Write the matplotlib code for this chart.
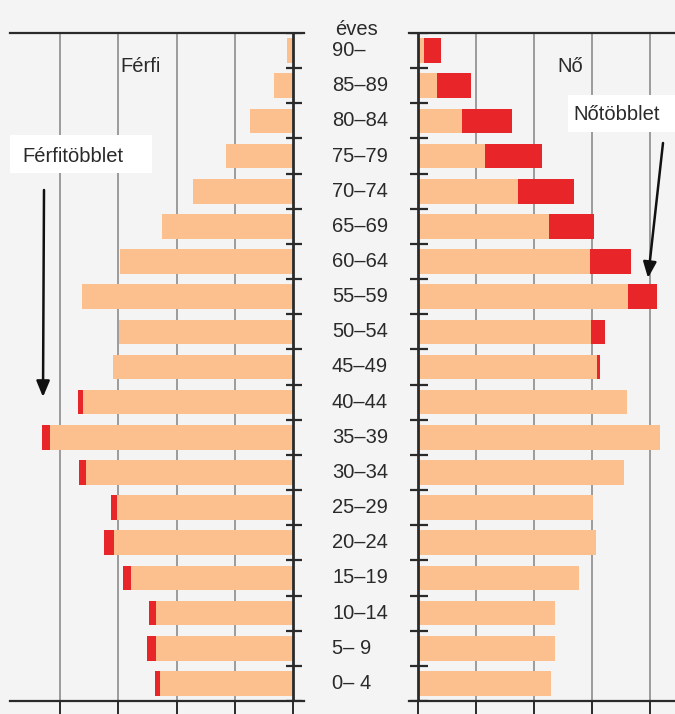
import matplotlib
matplotlib.use("Agg")
import matplotlib.pyplot as plt
import numpy as np
from matplotlib.patches import Rectangle
from matplotlib.text import Annotation
from matplotlib.transforms import blended_transform_factory

plt.rcParams["font.family"] = ["Liberation Sans Narrow", "Liberation Sans", "DejaVu Sans"]

# age groups, bottom to top
ages = ["0– 4", "5– 9", "10–14", "15–19", "20–24", "25–29", "30–34", "35–39",
        "40–44", "45–49", "50–54", "55–59", "60–64", "65–69", "70–74",
        "75–79", "80–84", "85–89", "90–"]
# bar lengths (grid units)
male = [2.37, 2.51, 2.48, 2.91, 3.24, 3.12, 3.67, 4.30, 3.68, 3.09,
        2.98, 3.62, 2.96, 2.25, 1.72, 1.15, 0.75, 0.33, 0.11]
female = [2.29, 2.36, 2.36, 2.78, 3.07, 3.02, 3.55, 4.17, 3.60, 3.14,
          3.22, 4.12, 3.67, 3.03, 2.69, 2.14, 1.62, 0.91, 0.40]

ORANGE = "#fbc08e"
RED = "#e8262a"
BG = "#f4f4f4"
INK = "#2a2a2a"
W, H = 675, 714
FS = 14.5

male = np.array(male)
female = np.array(female)
common = np.minimum(male, female)
male_extra = np.clip(male - female, 0, None)
female_extra = np.clip(female - male, 0, None)
y = np.arange(len(ages))

fig = plt.figure(figsize=(W / 100, H / 100), dpi=100, facecolor=BG)


def px(x0, y0, w, h):
    return [x0 / W, 1 - (y0 + h) / H, w / W, h / H]


axl = fig.add_axes(px(10, 33, 294, 668))
axr = fig.add_axes(px(409, 33, 266, 668))
axl.set_xlim(4.85, -0.18)
axr.set_xlim(-0.155, 4.43)

for ax in (axl, axr):
    ax.set_facecolor(BG)
    ax.set_ylim(-0.5, 18.5)
    for s in ("left", "right"):
        ax.spines[s].set_visible(False)
    for s in ("top", "bottom"):
        ax.spines[s].set_color(INK)
        ax.spines[s].set_linewidth(1.6)
    ax.set_xticks(range(5))
    ax.set_xticklabels([])
    ax.set_yticks([])
    ax.tick_params(axis="x", direction="out", length=9, width=1.4, color=INK)
    for g in range(1, 5):
        ax.axvline(g, color="#8c8c8c", lw=1.2, zorder=0)
    ax.axvline(0, color=INK, lw=2, zorder=3)

axl.barh(y, common, height=0.7, color=ORANGE, zorder=2)
axl.barh(y, male_extra, left=common, height=0.7, color=RED, zorder=2)
axr.barh(y, common, height=0.7, color=ORANGE, zorder=2)
axr.barh(y, female_extra, left=common, height=0.7, color=RED, zorder=2)

bounds = np.arange(-0.5, len(ages), 1.0)
axl.hlines(bounds, -0.15, 0.12, color=INK, lw=1.6, zorder=3)
axr.hlines(bounds, -0.14, 0.17, color=INK, lw=1.6, zorder=3)

# age labels in the middle
tr = blended_transform_factory(fig.transFigure, axl.transData)
for yi, lab in zip(y, ages):
    fig.text(332 / W, yi, lab, transform=tr, ha="left", va="center",
             fontsize=FS, color=INK)
fig.text(357 / W, 1 - 35 / H, "éves", ha="center", va="baseline",
         fontsize=FS, color=INK)

fig.text(141 / W, 1 - 66 / H, "Férfi", ha="center", va="center",
         fontsize=FS, color=INK)
fig.text(570 / W, 1 - 67 / H, "Nő", ha="center", va="center",
         fontsize=FS, color=INK)

# callout boxes and arrows
for x0, y0, w, h in [(10, 135, 142, 38), (568, 95, 107, 37)]:
    fig.add_artist(Rectangle((x0 / W, 1 - (y0 + h) / H), w / W, h / H,
                             transform=fig.transFigure, facecolor="white",
                             edgecolor="none", zorder=5))
fig.text(22 / W, 1 - 156 / H, "Férfitöbblet", ha="left", va="center",
         fontsize=FS, color=INK, zorder=6)
fig.text(573 / W, 1 - 115 / H, "Nőtöbblet", ha="left", va="center",
         fontsize=FS, color=INK, zorder=6)

arrow = dict(arrowstyle="-|>,head_length=0.6,head_width=0.25", lw=1.8,
             color="#111111", mutation_scale=16, shrinkA=0, shrinkB=0)
fig.add_artist(Annotation(
    "", xy=(43 / W, 1 - 397 / H), xytext=(44 / W, 1 - 190 / H),
    xycoords="figure fraction", textcoords="figure fraction",
    arrowprops=arrow, zorder=6))
fig.add_artist(Annotation(
    "", xy=(648 / W, 1 - 278 / H), xytext=(663 / W, 1 - 143 / H),
    xycoords="figure fraction", textcoords="figure fraction",
    arrowprops=arrow, zorder=6))

fig.savefig("out.png", dpi=100, facecolor=BG)
